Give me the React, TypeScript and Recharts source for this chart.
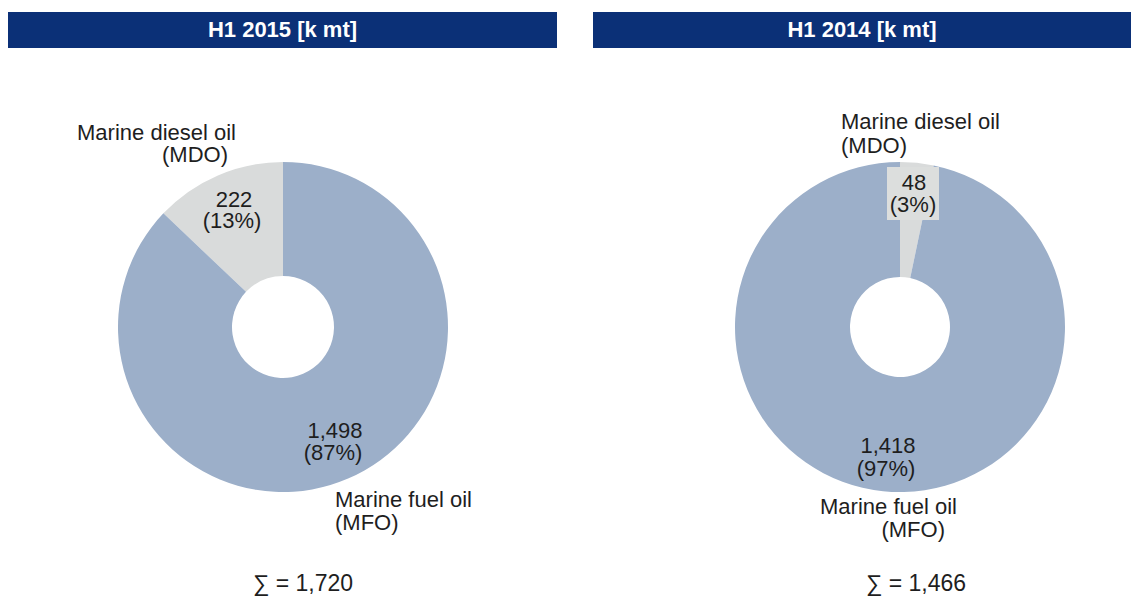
import { PieChart, Pie, Cell } from "recharts";

const fuelNames = ["Marine diesel oil", "Marine fuel oil"];
const fuelCodes = ["(MDO)", "(MFO)"];
const periods = ["H1 2015 [k mt]", "H1 2014 [k mt]"];
const values2015 = [222, 1498];
const values2014 = [48, 1418];

const COLORS = ["#d9dbdb", "#9cafc9"];
const NAVY = "#0b3077";
const TEXT = "#1e1e1e";
const FONT = "'Liberation Sans', Arial, sans-serif";

const toData = (values: number[]) =>
  values.map((v, i) => ({ name: fuelNames[i], code: fuelCodes[i], value: v }));

const data2015 = toData(values2015);
const data2014 = toData(values2014);
const sum = (values: number[]) => values.reduce((s, v) => s + v, 0);
const fmt = (n: number) => n.toLocaleString("en-US");

type LineSpot = { dx: number; dy: number; anchor: "start" | "middle" | "end" };
type SliceLayout = {
  value: LineSpot[];
  name: LineSpot[];
  box?: { dx: number; dy: number; w: number; h: number };
};

// label placement relative to each pie's centre
const layout2015: SliceLayout[] = [
  {
    value: [
      { dx: -49, dy: -120, anchor: "middle" },
      { dx: -51, dy: -99, anchor: "middle" },
    ],
    name: [
      { dx: -47, dy: -187, anchor: "end" },
      { dx: -55, dy: -165, anchor: "end" },
    ],
  },
  {
    value: [
      { dx: 52, dy: 111, anchor: "middle" },
      { dx: 50, dy: 133, anchor: "middle" },
    ],
    name: [
      { dx: 52, dy: 180, anchor: "start" },
      { dx: 52, dy: 203, anchor: "start" },
    ],
  },
];

const layout2014: SliceLayout[] = [
  {
    value: [
      { dx: 14, dy: -137, anchor: "middle" },
      { dx: 13, dy: -115, anchor: "middle" },
    ],
    name: [
      { dx: -59, dy: -198, anchor: "start" },
      { dx: -59, dy: -174, anchor: "start" },
    ],
    box: { dx: -13, dy: -160, w: 52, h: 53 },
  },
  {
    value: [
      { dx: -12, dy: 126, anchor: "middle" },
      { dx: -14, dy: 149, anchor: "middle" },
    ],
    name: [
      { dx: 57, dy: 187, anchor: "end" },
      { dx: 45, dy: 210, anchor: "end" },
    ],
  },
];

const makeLabel = (spots: SliceLayout[]) => (props: any) => {
  const { cx, cy, index, percent, payload } = props;
  const s = spots[index];
  const valueLines = [fmt(payload.value), `(${Math.round(percent * 100)}%)`];
  const nameLines = [payload.name, payload.code];
  return (
    <g key={`lbl-${index}`} fontFamily={FONT} fontSize={22} fill={TEXT}>
      {s.box && (
        <rect
          x={cx + s.box.dx}
          y={cy + s.box.dy}
          width={s.box.w}
          height={s.box.h}
          fill="#dcdedd"
        />
      )}
      {valueLines.map((t, i) => (
        <text
          key={`v${i}`}
          x={cx + s.value[i].dx}
          y={cy + s.value[i].dy}
          textAnchor={s.value[i].anchor}
          fill={TEXT}
        >
          {t}
        </text>
      ))}
      {nameLines.map((t, i) => (
        <text
          key={`n${i}`}
          x={cx + s.name[i].dx}
          y={cy + s.name[i].dy}
          textAnchor={s.name[i].anchor}
          fill={TEXT}
        >
          {t}
        </text>
      ))}
    </g>
  );
};

const headerStyle = (left: number, width: number): React.CSSProperties => ({
  position: "absolute",
  left,
  top: 12,
  width,
  height: 36,
  lineHeight: "36px",
  background: NAVY,
  color: "#fff",
  fontWeight: 700,
  fontSize: 22,
  textAlign: "center",
});

const sumStyle = (center: number): React.CSSProperties => ({
  position: "absolute",
  left: center - 100,
  top: 570,
  width: 200,
  textAlign: "center",
  fontSize: 23,
  color: TEXT,
});

export default function App() {
  return (
    <div
      style={{
        position: "absolute",
        left: 0,
        top: 0,
        width: 1131,
        height: 601,
        background: "#fff",
        fontFamily: FONT,
        overflow: "hidden",
      }}
    >
      <div style={headerStyle(8, 549)}>{periods[0]}</div>
      <div style={headerStyle(593, 538)}>{periods[1]}</div>

      <div style={{ position: "absolute", left: 0, top: 0 }}>
        <PieChart width={1131} height={601} margin={{ top: 0, right: 0, bottom: 0, left: 0 }}>
          <Pie
            data={data2015}
            dataKey="value"
            cx={283}
            cy={327}
            innerRadius={51}
            outerRadius={165}
            startAngle={90}
            endAngle={450}
            stroke="none"
            labelLine={false}
            label={makeLabel(layout2015)}
            isAnimationActive={false}
          >
            {data2015.map((_, i) => (
              <Cell key={i} fill={COLORS[i]} />
            ))}
          </Pie>
          <Pie
            data={data2014}
            dataKey="value"
            cx={900}
            cy={327}
            innerRadius={50}
            outerRadius={165}
            startAngle={90}
            endAngle={-270}
            stroke="none"
            labelLine={false}
            label={makeLabel(layout2014)}
            isAnimationActive={false}
          >
            {data2014.map((_, i) => (
              <Cell key={i} fill={COLORS[i]} />
            ))}
          </Pie>
        </PieChart>
      </div>

      <div style={sumStyle(303)}>∑ = {fmt(sum(values2015))}</div>
      <div style={sumStyle(916)}>∑ = {fmt(sum(values2014))}</div>
    </div>
  );
}
